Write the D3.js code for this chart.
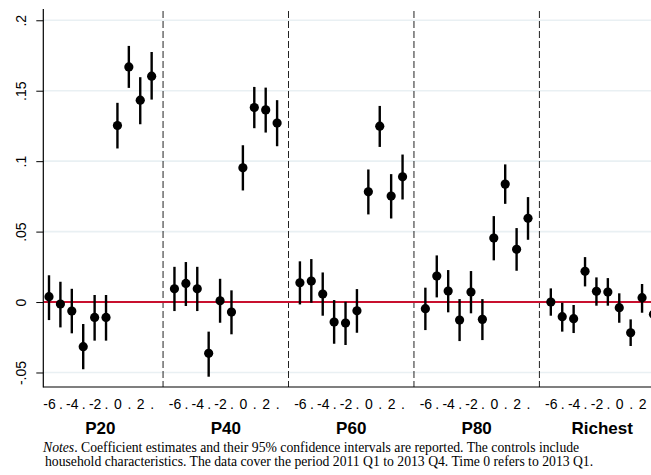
<!DOCTYPE html>
<html>
<head>
<meta charset="utf-8">
<script src="https://cdn.jsdelivr.net/npm/d3@7"></script>
<style>
  html, body { margin: 0; padding: 0; background: #fff; }
  svg { display: block; }
</style>
</head>
<body>
<svg id="chart" width="651" height="475"></svg>
<script>
// Groups of the income distribution and event time (quarters relative to 2013 Q1)
const groups = ["P20", "P40", "P60", "P80", "Richest"];
const periods = [-6, -5, -4, -3, -2, -1, 0, 1, 2, 3];
const periodLabels = ["-6", ".", "-4", ".", "-2", ".", "0", ".", "2", "."];
const yTicks = [-0.05, 0, 0.05, 0.1, 0.15, 0.2];
const yTickLabels = ["-.05", "0", ".05", ".1", ".15", ".2"];

// Coefficient estimates with lower / upper 95% bounds
const coefP20 = [0.0038, -0.0014, -0.0064, -0.0317, -0.0109, -0.0109, 0.1253, 0.1669, 0.1433, 0.1603];
const loP20   = [-0.0128, -0.018, -0.0222, -0.0477, -0.0274, -0.0274, 0.109, 0.152, 0.1262, 0.1437];
const hiP20   = [0.019, 0.0144, 0.0094, -0.0156, 0.005, 0.005, 0.1414, 0.1818, 0.1596, 0.1775];

const coefP40 = [0.0094, 0.0132, 0.0094, -0.0364, 0.0009, -0.0071, 0.0953, 0.1381, 0.1364, 0.127];
const loP40   = [-0.0064, -0.0028, -0.0064, -0.053, -0.0147, -0.0229, 0.0792, 0.1234, 0.1203, 0.1106];
const hiP40   = [0.025, 0.0284, 0.025, -0.021, 0.0165, 0.0083, 0.1113, 0.1527, 0.1522, 0.1433];

const coefP60 = [0.0137, 0.0149, 0.0057, -0.0142, -0.0149, -0.0062, 0.0782, 0.1248, 0.0752, 0.0889];
const loP60   = [-0.0017, -0.0005, -0.0097, -0.0296, -0.0305, -0.0218, 0.0622, 0.1101, 0.0593, 0.0728];
const hiP60   = [0.0289, 0.0305, 0.021, 0.0014, 0.0002, 0.0092, 0.0941, 0.1392, 0.0908, 0.1047];

const coefP80 = [-0.0047, 0.0184, 0.0078, -0.0128, 0.0071, -0.0123, 0.0454, 0.0837, 0.0374, 0.0594];
const loP80   = [-0.0199, 0.0033, -0.0073, -0.0277, -0.008, -0.027, 0.0296, 0.0697, 0.0222, 0.0442];
const hiP80   = [0.0102, 0.0331, 0.0227, 0.0021, 0.022, 0.0021, 0.061, 0.0977, 0.0525, 0.0745];

const coefRichest = [0.0, -0.0104, -0.0118, 0.0218, 0.0076, 0.0071, -0.004, -0.0218, 0.0031, -0.0087];
const loRichest   = [-0.0097, -0.021, -0.022, 0.0111, -0.0026, -0.0026, -0.0147, -0.0312, -0.0076, -0.018];
const hiRichest   = [0.0097, -0.0005, -0.0021, 0.0319, 0.0175, 0.017, 0.0062, -0.0123, 0.0128, 0.001];

const coefs = [coefP20, coefP40, coefP60, coefP80, coefRichest];
const lows  = [loP20, loP40, loP60, loP80, loRichest];
const highs = [hiP20, hiP40, hiP60, hiP80, hiRichest];

// Long table: one row per group x period, placed on a shared index axis
// (each group takes its periods plus one spacer slot before the next group)
const slotsPerGroup = periods.length + 1;
const rows = [];
groups.forEach((g, gi) => {
  periods.forEach((p, pi) => {
    rows.push({ group: g, period: p, pi: pi, idx: gi * slotsPerGroup + pi,
                est: coefs[gi][pi], lo: lows[gi][pi], hi: highs[gi][pi] });
  });
});

const W = 651;
const svg = d3.select("#chart");
const plotLeft = 43.3, plotBottom = 387, plotTop = 9;
const nSlots = groups.length * slotsPerGroup;

const x = d3.scaleLinear().domain([-0.5, nSlots - 0.5]).range([plotLeft, plotLeft + nSlots * 11.405]);
const y = d3.scaleLinear().domain([-0.0603, 0.208]).range([plotBottom, plotTop]);

// horizontal grid
svg.append("g").selectAll("line").data(yTicks).join("line")
  .attr("x1", plotLeft).attr("x2", W)
  .attr("y1", d => y(d)).attr("y2", d => y(d))
  .attr("stroke", "#e9f0f3").attr("stroke-width", 1.6);

// dashed separators between groups
const seps = d3.range(1, groups.length).map(k => k * slotsPerGroup - 1);
svg.append("g").selectAll("line").data(seps).join("line")
  .attr("x1", d => x(d)).attr("x2", d => x(d))
  .attr("y1", plotTop + 2).attr("y2", plotBottom)
  .attr("stroke", "#222").attr("stroke-width", 1)
  .attr("stroke-dasharray", "7,3");

// zero reference line
svg.append("line")
  .attr("x1", plotLeft).attr("x2", W)
  .attr("y1", y(0)).attr("y2", y(0))
  .attr("stroke", "#c8102e").attr("stroke-width", 2);

// y axis
const yAxis = d3.axisLeft(y).tickValues(yTicks)
  .tickFormat((d, i) => yTickLabels[i]).tickSize(7).tickPadding(5);
const ya = svg.append("g").attr("transform", `translate(${plotLeft},0)`).call(yAxis);
ya.select(".domain").remove();
ya.selectAll(".tick line").attr("stroke", "#000").attr("stroke-width", 1);
ya.selectAll(".tick text")
  .attr("font-family", "Liberation Sans, Arial, sans-serif").attr("font-size", 14)
  .attr("fill", "#000")
  .attr("transform", "rotate(-90)")
  .attr("x", 0).attr("y", -17).attr("dy", 0)
  .attr("text-anchor", "middle");
svg.append("line").attr("x1", plotLeft).attr("x2", plotLeft).attr("y1", plotTop).attr("y2", plotBottom + 0.5)
  .attr("stroke", "#000").attr("stroke-width", 1.2);

// x axis (period labels under each group; positions past the right edge are left out)
const labelRows = rows.filter(r => x(r.idx) + 3 < W);
const xAxis = d3.axisBottom(x).tickValues(labelRows.map(r => r.idx))
  .tickFormat((d, i) => periodLabels[labelRows[i].pi]).tickSize(0).tickPadding(0);
const xa = svg.append("g").attr("transform", `translate(0,${plotBottom})`).call(xAxis);
xa.select(".domain").remove();
xa.selectAll(".tick text")
  .attr("font-family", "Liberation Sans, Arial, sans-serif").attr("font-size", 14)
  .attr("fill", "#000").attr("y", 22).attr("dy", 0);
svg.append("line").attr("x1", plotLeft).attr("x2", W).attr("y1", plotBottom).attr("y2", plotBottom)
  .attr("stroke", "#000").attr("stroke-width", 1.2);

// group titles
svg.append("g").selectAll("text").data(groups).join("text")
  .attr("x", (g, gi) => x(gi * slotsPerGroup + (periods.length - 1) / 2))
  .attr("y", 434)
  .attr("text-anchor", "middle")
  .attr("font-family", "Liberation Sans, Arial, sans-serif")
  .attr("font-weight", "bold").attr("font-size", 17)
  .text(d => d);

// confidence intervals
svg.append("g").selectAll("line").data(rows).join("line")
  .attr("x1", d => x(d.idx)).attr("x2", d => x(d.idx))
  .attr("y1", d => y(d.lo)).attr("y2", d => y(d.hi))
  .attr("stroke", "#000").attr("stroke-width", 2.4);

// point estimates
svg.append("g").selectAll("circle").data(rows).join("circle")
  .attr("cx", d => x(d.idx)).attr("cy", d => y(d.est))
  .attr("r", 4.6).attr("fill", "#000");

// notes
const notes = svg.append("text")
  .attr("font-family", "Liberation Serif, Times New Roman, serif")
  .attr("font-size", 13.7).attr("fill", "#000");
notes.append("tspan").attr("x", 43).attr("y", 452).attr("font-style", "italic").text("Notes");
notes.append("tspan").text(". Coefficient estimates and their 95% confidence intervals are reported. The controls include");
svg.append("text")
  .attr("font-family", "Liberation Serif, Times New Roman, serif")
  .attr("font-size", 13.7).attr("fill", "#000")
  .attr("x", 45).attr("y", 466)
  .text("household characteristics. The data cover the period 2011 Q1 to 2013 Q4. Time 0 refers to 2013 Q1.");
</script>
</body>
</html>
